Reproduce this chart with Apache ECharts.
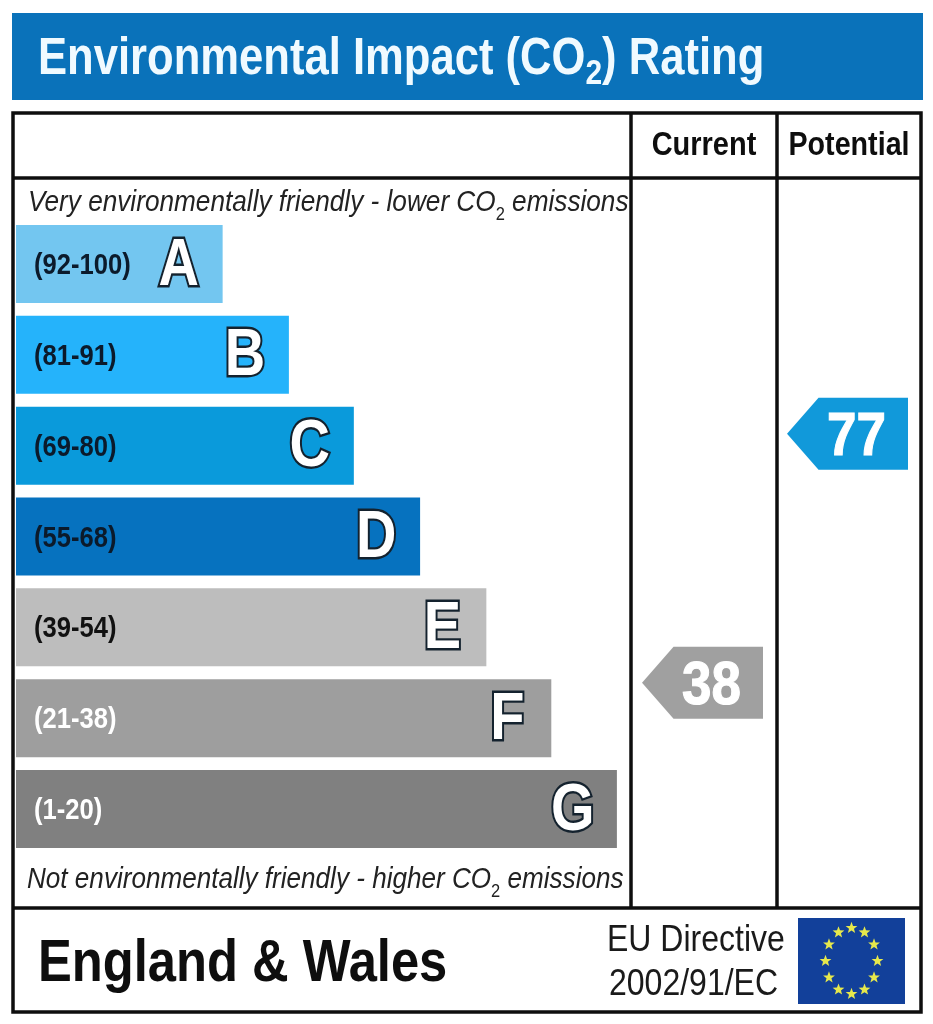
<!DOCTYPE html>
<html><head><meta charset="utf-8">
<style>html,body{margin:0;padding:0;background:#fff}#c{width:933px;height:1024px}</style>
<script src="https://cdn.jsdelivr.net/npm/echarts@6/dist/echarts.min.js"></script>
</head><body><div id="c"></div>
<script>
const bandLetters = ['A','B','C','D','E','F','G'];
const bandRanges = ['(92-100)','(81-91)','(69-80)','(55-68)','(39-54)','(21-38)','(1-20)'];
const bandLengths = [31.5,41.6,51.5,61.6,71.7,81.6,91.6];
const bandColors = ['#73C6F0','#25B3FB','#0A9ADB','#0672BF','#BDBDBD','#9E9E9E','#808080'];
const rangeColors = ['#0B1A2B','#0B1A2B','#0B1A2B','#0B1A2B','#111111','#FFFFFF','#FFFFFF'];
const ratingColumns = ['Current','Potential'];
const ratingValues = [38,77];
const ratingColors = ['#A0A0A0','#1199DA'];
const titleParts = ['Environmental Impact (CO','2',') Rating'];
const SANS = '"Liberation Sans", Arial, sans-serif';

const chart = echarts.init(document.getElementById('c'), null, {renderer:'canvas'});

function line(x1,y1,x2,y2){return {type:'line',shape:{x1,y1,x2,y2},style:{stroke:'#0E0E0E',lineWidth:3.5}};}
function txt(x,y,text,o){
  return {type:'text',x,y,scaleX:o.sx||1,scaleY:o.sy||1.19,silent:true,
    style:Object.assign({text,x:0,y:0,fill:o.fill||'#0E0E0E',fontFamily:SANS,fontSize:o.size,fontWeight:o.weight||'normal',
      fontStyle:o.style||'normal',align:o.align||'left',verticalAlign:'middle'},o.extra||{})};
}
function subText(x,y,before,after,o){
  const base={fontFamily:SANS,fontSize:o.size,fontWeight:o.weight||'normal',fontStyle:o.style||'normal',fill:o.fill||'#0E0E0E',lineHeight:o.size,verticalAlign:'top'};
  return txt(x,y+(o.sy||1.19)*o.drop/2,'{m|'+before+'}{s|2}{m|'+after+'}',Object.assign({},o,{extra:{rich:{
    m:Object.assign({},base,{padding:[0,0,o.drop,0]}),
    s:Object.assign({},base,{fontSize:o.subSize,fontStyle:o.subStyle||o.style||'normal',padding:[o.drop,0,0,0]})
  }}}));
}
const stars=[];
for(let k=0;k<12;k++){
  const a=k*Math.PI/6, cx=851.5+26*Math.sin(a), cy=961-33*Math.cos(a), pts=[];
  for(let j=0;j<10;j++){const r=j%2?2.6:6.2, t=j*Math.PI/5; pts.push([cx+r*Math.sin(t),cy-r*Math.cos(t)]);}
  stars.push({type:'polygon',shape:{points:pts},style:{fill:'#E6E84C'}});
}
const graphicEls=[
  {type:'rect',shape:{x:12,y:13,width:911,height:87},style:{fill:'#0A72BA'}},
  {type:'rect',shape:{x:13,y:113,width:908,height:899},style:{fill:'#fff',stroke:'#0E0E0E',lineWidth:3.5}},
  line(13,178,921,178),line(13,908,921,908),line(631,113,631,908),line(777,113,777,908),
  subText(38,47.5,titleParts[0],titleParts[2],{size:43.6,subSize:30,weight:'bold',fill:'#F0FAFF',drop:20,sy:1.17}),
  txt(704,146,ratingColumns[0],{size:31,weight:'bold',align:'center',sy:1.06,sx:0.935}),
  txt(849,146,ratingColumns[1],{size:31,weight:'bold',align:'center',sy:1.06,sx:0.925}),
  subText(28,194.5,'Very environmentally friendly - lower CO',' emissions',{size:26.2,subSize:16.5,style:'italic',subStyle:'normal',fill:'#222',drop:15,sy:1.15}),
  subText(27,871.5,'Not environmentally friendly - higher CO',' emissions',{size:26.1,subSize:16.5,style:'italic',subStyle:'normal',fill:'#222',drop:15,sy:1.15}),
  txt(38,965,'England & Wales',{size:50.7,weight:'bold',sy:1.17}),
  txt(607,941,'EU Directive',{size:32,sy:1.13,fill:'#1A1A1A'}),
  txt(609,985,'2002/91/EC',{size:32,sy:1.13,fill:'#1A1A1A'}),
  {type:'rect',shape:{x:798,y:918,width:107,height:86},style:{fill:'#12409A'}}
].concat(stars);

chart.setOption({
  animation:false,
  backgroundColor:'#fff',
  graphic:{elements:graphicEls},
  grid:[
    {left:16,top:218.6,width:656,height:635.8},
    {left:630,top:287,width:290,height:638.5}
  ],
  xAxis:[
    {type:'value',gridIndex:0,min:0,max:100,show:false},
    {type:'category',gridIndex:1,data:ratingColumns,show:false}
  ],
  yAxis:[
    {type:'category',gridIndex:0,inverse:true,data:bandLetters,show:false},
    {type:'value',gridIndex:1,min:0,max:100,show:false}
  ],
  series:[
    {type:'bar',xAxisIndex:0,yAxisIndex:0,barWidth:78,silent:true,
      data:bandLengths.map((v,i)=>({value:v,itemStyle:{color:bandColors[i]}}))},
    {type:'custom',xAxisIndex:0,yAxisIndex:0,silent:true,z:5,
      data:bandLengths.map((v,i)=>[v,i]),
      encode:{x:0,y:1},
      renderItem(p,api){
        const i=api.value(1), left=api.coord([0,i]), end=api.coord([api.value(0),i]);
        return {type:'group',children:[
          {type:'text',x:left[0]+18,y:left[1]+2,scaleY:1.15,style:{text:bandRanges[i],fill:rangeColors[i],
            fontFamily:SANS,fontWeight:'bold',fontSize:25.6,align:'left',verticalAlign:'middle'}},
          {type:'text',x:end[0]-44,y:end[1]+2,scaleY:1.2,style:{text:bandLetters[i],fill:'#FFFFFF',stroke:'#14222E',lineWidth:4,
            fontFamily:SANS,fontWeight:'bold',fontSize:56,align:'center',verticalAlign:'middle'}}
        ]};
      }},
    {type:'custom',xAxisIndex:1,yAxisIndex:1,silent:true,z:5,
      data:ratingValues.map((v,i)=>[i,v]),
      encode:{x:0,y:1},
      renderItem(p,api){
        const i=api.value(0), c=api.coord([i,api.value(1)]), x=c[0], y=c[1];
        return {type:'group',children:[
          {type:'polygon',shape:{points:[[x-60.5,y],[x-29,y-36],[x+60.5,y-36],[x+60.5,y+36],[x-29,y+36]]},style:{fill:ratingColors[i]}},
          {type:'text',x:x+9,y:y+4,scaleY:1.15,style:{text:String(ratingValues[i]),fill:'#FFFFFF',stroke:'#FFFFFF',lineWidth:1,
            fontFamily:SANS,fontWeight:'bold',fontSize:53,align:'center',verticalAlign:'middle'}}
        ]};
      }}
  ]
});
</script></body></html>
